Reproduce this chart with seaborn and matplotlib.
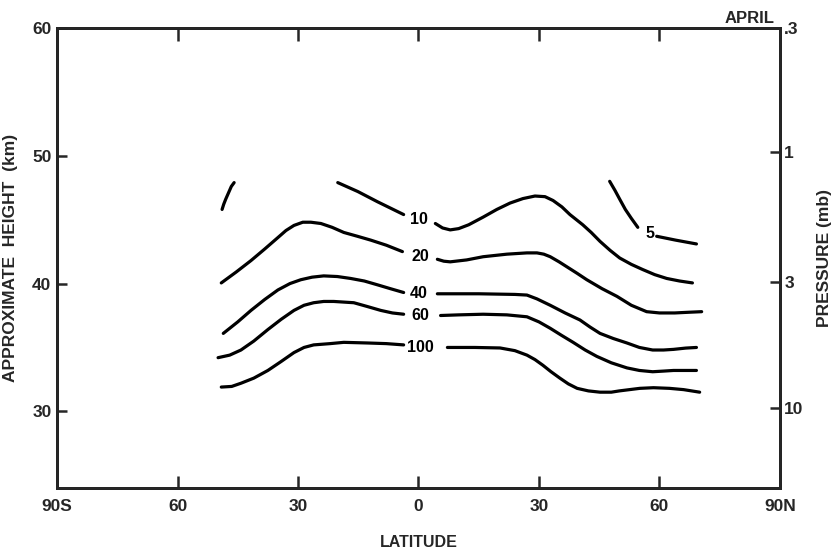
import matplotlib
matplotlib.use("Agg")
import matplotlib.pyplot as plt
import seaborn as sns

# ---------------- data (latitude in degrees, N positive; height in km) ----------------
x_ticks = [-90, -60, -30, 0, 30, 60, 90]
x_tick_labels = ["90S", "60", "30", "0", "30", "60", "90N"]
y_ticks = [30, 40, 50, 60]
p_tick_km = [60, 50.3, 40.1, 30.3]
p_tick_labels = [".3", "1", "3", "10"]

c5_left_lat = [47.6, 48.9, 50.1, 51.5, 53.0, 54.6]
c5_left_km = [48.0, 47.3, 46.6, 45.8, 45.1, 44.4]
c5_right_lat = [59.3, 64.0, 69.2]
c5_right_km = [43.7, 43.4, 43.1]

c_frag_lat = [-48.9, -48.5, -48.0, -47.3, -46.6, -45.9]
c_frag_km = [45.8, 46.2, 46.6, 47.1, 47.6, 47.9]

c10_left_lat = [-20.1, -15.1, -10.2, -3.7]
c10_left_km = [47.9, 47.2, 46.4, 45.4]
c10_right_lat = [4.2, 6.0, 7.9, 10.0, 12.5, 16.1, 19.5, 22.8, 26.0, 29.0, 31.5, 33.5,
                 35.7, 37.7, 40.9, 43.0, 45.2, 47.7, 50.1, 53.0, 55.8, 58.8, 61.8, 65.0, 68.2]
c10_right_km = [44.7, 44.35, 44.2, 44.3, 44.6, 45.2, 45.8, 46.3, 46.65, 46.85, 46.8, 46.5,
                46.0, 45.4, 44.6, 44.0, 43.3, 42.6, 42.0, 41.5, 41.1, 40.7, 40.4, 40.2, 40.05]

c20_left_lat = [-49.1, -45.4, -41.7, -38.3, -35.0, -33.0, -31.0, -28.8, -26.8, -24.3,
                -21.5, -18.6, -15.2, -11.9, -8.0, -4.0]
c20_left_km = [40.05, 40.9, 41.8, 42.7, 43.6, 44.15, 44.55, 44.8, 44.8, 44.7,
               44.4, 44.0, 43.7, 43.4, 43.0, 42.5]
c20_right_lat = [4.7, 6.3, 7.9, 12.0, 16.1, 22.0, 27.0, 29.5, 31.2, 32.8, 35.0, 37.0,
                 39.5, 41.9, 45.7, 49.4, 53.0, 56.8, 60.0, 63.8, 67.0, 70.5]
c20_right_km = [41.9, 41.75, 41.7, 41.85, 42.1, 42.3, 42.4, 42.4, 42.3, 42.1, 41.7, 41.3,
                40.8, 40.3, 39.6, 39.0, 38.3, 37.8, 37.7, 37.7, 37.75, 37.8]

c40_left_lat = [-48.6, -45.0, -41.7, -38.3, -35.0, -32.0, -29.3, -26.5, -23.6, -20.2,
                -16.9, -13.5, -10.2, -7.0, -3.7]
c40_left_km = [36.1, 37.0, 37.9, 38.75, 39.5, 40.0, 40.3, 40.5, 40.6, 40.55,
               40.4, 40.2, 39.9, 39.6, 39.3]
c40_right_lat = [4.7, 15.0, 24.0, 27.0, 29.5, 32.8, 36.5, 40.2, 42.7, 45.2, 48.5, 51.9,
                 55.0, 58.3, 61.0, 63.5, 66.5, 69.2]
c40_right_km = [39.2, 39.2, 39.15, 39.1, 38.8, 38.3, 37.7, 37.15, 36.6, 36.1, 35.7, 35.35,
                35.0, 34.8, 34.8, 34.85, 34.95, 35.0]

c60_left_lat = [-49.9, -47.0, -44.2, -41.0, -37.5, -34.2, -31.0, -28.5, -26.1, -23.6,
                -21.1, -18.6, -16.1, -12.7, -9.4, -6.5, -3.7]
c60_left_km = [34.2, 34.4, 34.8, 35.5, 36.4, 37.2, 37.9, 38.3, 38.5, 38.6,
               38.6, 38.55, 38.5, 38.2, 37.9, 37.7, 37.6]
c60_right_lat = [5.5, 10.0, 16.1, 22.0, 27.0, 30.0, 32.8, 35.6, 38.5, 41.5, 44.4, 48.0,
                 51.9, 55.0, 58.3, 61.0, 63.5, 66.5, 69.2]
c60_right_km = [37.5, 37.55, 37.6, 37.55, 37.4, 37.0, 36.5, 35.95, 35.4, 34.8, 34.3, 33.8,
                33.4, 33.2, 33.1, 33.15, 33.2, 33.2, 33.2]

c100_left_lat = [-49.1, -46.5, -44.2, -41.0, -37.5, -34.2, -31.0, -28.5, -26.1, -22.0,
                 -18.6, -12.7, -8.0, -3.7]
c100_left_km = [31.9, 31.95, 32.2, 32.6, 33.2, 33.9, 34.6, 35.0, 35.2, 35.3,
                35.4, 35.35, 35.3, 35.2]
c100_right_lat = [7.2, 14.0, 20.3, 24.0, 27.0, 29.0, 31.0, 33.0, 35.2, 37.3, 39.5, 42.3,
                  45.2, 48.0, 50.0, 55.1, 58.5, 62.5, 66.0, 70.0]
c100_right_km = [35.0, 35.0, 34.96, 34.75, 34.4, 34.05, 33.6, 33.1, 32.6, 32.15, 31.8, 31.6,
                 31.5, 31.5, 31.6, 31.8, 31.85, 31.8, 31.7, 31.5]

label_text = ["5", "10", "20", "40", "60", "100"]
label_lat = [57.6, 0.0, 0.5, 0.0, 0.5, 0.5]
label_km = [43.9, 45.0, 42.1, 39.2, 37.5, 35.0]

# ---------------- plot ----------------
sns.set_style("ticks")
plt.rcParams["font.family"] = ["Liberation Sans", "DejaVu Sans"]
plt.rcParams["font.weight"] = "bold"

fig = plt.figure(figsize=(8.31, 5.53), dpi=100)
ax = fig.add_axes([0.0686, 0.1175, 0.87, 0.8319])

segments = [
    (c5_left_lat, c5_left_km), (c5_right_lat, c5_right_km),
    (c_frag_lat, c_frag_km),
    (c10_left_lat, c10_left_km), (c10_right_lat, c10_right_km),
    (c20_left_lat, c20_left_km), (c20_right_lat, c20_right_km),
    (c40_left_lat, c40_left_km), (c40_right_lat, c40_right_km),
    (c60_left_lat, c60_left_km), (c60_right_lat, c60_right_km),
    (c100_left_lat, c100_left_km), (c100_right_lat, c100_right_km),
]
for lats, kms in segments:
    sns.lineplot(x=lats, y=kms, ax=ax, sort=False, estimator=None,
                 color="black", linewidth=2.3, solid_capstyle="round",
                 solid_joinstyle="round")

for t, la, km in zip(label_text, label_lat, label_km):
    ax.text(la, km, t, ha="center", va="center", fontsize=11.5,
            fontweight="bold", color="black")

ax.set_xlim(-90, 90)
ax.set_ylim(24, 60)
ax.set_xticks(x_ticks)
ax.set_xticklabels(x_tick_labels)
ax.set_yticks(y_ticks)
ax.tick_params(axis="x", direction="in", length=9, width=1.8, pad=8,
               top=True, labelsize=12.5)
ax.tick_params(axis="y", direction="in", length=7, width=1.8, pad=4,
               labelsize=12.5)
for i in (0, -1):
    tk = ax.xaxis.get_major_ticks()[i]
    tk.tick1line.set_visible(False)
    tk.tick2line.set_visible(False)

for sp in ax.spines.values():
    sp.set_linewidth(2.0)
    sp.set_color("black")

ax.set_xlabel("LATITUDE", fontsize=11.5, fontweight="bold", labelpad=15)
ax.set_ylabel("APPROXIMATE  HEIGHT  (km)", fontsize=12.5, fontweight="bold",
              labelpad=10)

ax2 = ax.twinx()
ax2.set_ylim(24, 60)
ax2.set_yticks(p_tick_km)
ax2.set_yticklabels(p_tick_labels)
ax2.tick_params(axis="y", direction="in", length=7, width=1.8, pad=3,
                labelsize=12.5)
for sp in ax2.spines.values():
    sp.set_linewidth(2.0)
ax2.set_ylabel("PRESSURE (mb)", fontsize=12.5, fontweight="bold", labelpad=10)

ax.text(0.993, 1.005, "APRIL", transform=ax.transAxes, ha="right",
        va="bottom", fontsize=12, fontweight="bold")

fig.savefig("out.png", dpi=100, facecolor="white")
